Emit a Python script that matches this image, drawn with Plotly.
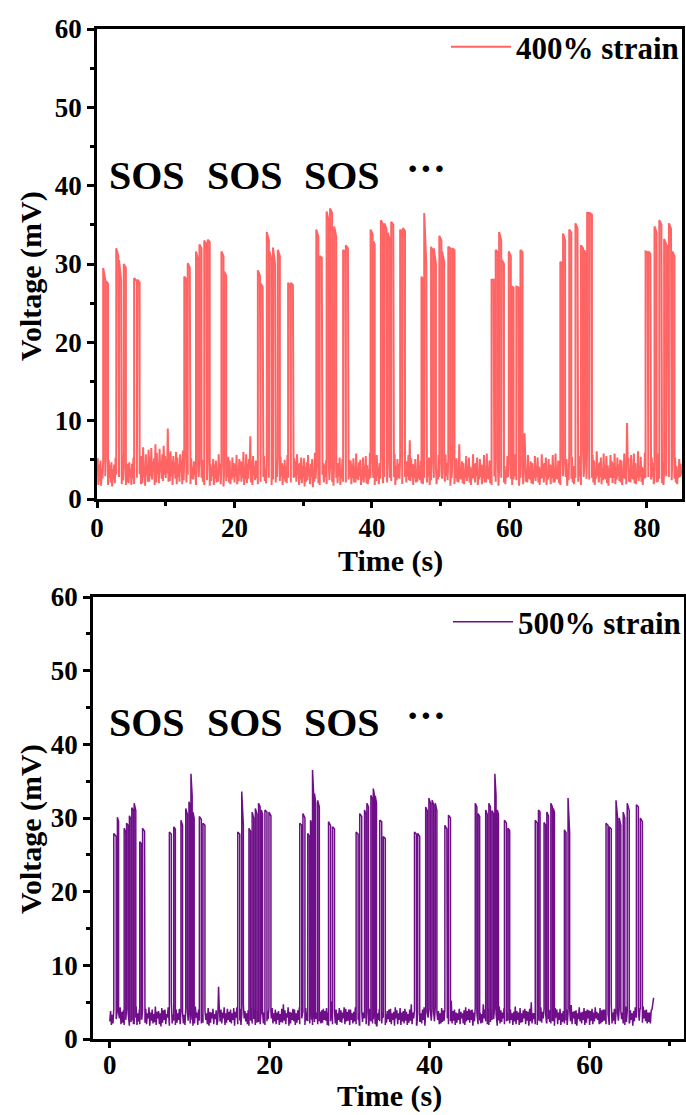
import plotly.graph_objects as go

# ---------------- data ----------------
# Baseline voltage in units of 0.1 mV, two digits per sample, one sample every 0.1 s.
# Each string = 5 s of signal.
top_dt = 0.1
top_base_rows = [
    "31521844234917392648" "19412955223618502743" "21471638254420533146" "17422849213719562440" "26511834224520472939",
    "18452653193721582749" "24613248195520662841" "17573044226322542965" "25483652187021593247" "20643449265723683155",
    "27513390225823612949" "18553247266019532844" "22573549196224522747" "21463155174319522641" "25483044184716412849",
    "19452750224118562739" "24482053174523412951" "18442649213822573145" "19432852163626472340" "28542149193725532846",
    "21442956193823513148" "22472760184225572045" "26513880214918553042" "24492745195026532248" "19462855233920472641",
    "27512244184825573140" "21462851173723542946" "18432650224120562745" "24492139193627522848" "22573145184625532042",
    "28521641224724562939" "19452851153822592643" "25482047183727553146" "21442849193526522440" "29542244174823572745",
    "20462953183926512243" "27482156163725502849" "19442752214121582639" "24472950183624532142" "28552043193825592746",
    "22482751184423562941" "19462655213720532844" "25492146193927552342" "20472857184224512745" "26532141193625582848",
    "21482956247523522845" "18442751213822572643" "24492043193627552948" "21462853183924512647" "27552242193725562844",
    "20472654183922572946" "24512048173627532845" "19442752223821702641" "25482046193527552342" "28532141183926572745",
    "21462953183725512844" "19432756213921582640" "25492047183626532948" "22452851173824562743" "26542142193727552845",
    "20472653183925572946" "24512148173727532845" "19448452223821562641" "25482046193527552342" "28532141183926572745",
    "21462953183725512844" "19432756213921582640" "25492047183626532948" "22452851173824562743" "26542142193727552845",
    "22512955183925622846" "20482663193725592344" "27562149183626612945" "21472853193824582642" "25552043173927562748",
    "20462758193625532944" "23502149183727582642" "19974852223921562641" "25582046193527612342" "28542241183926592745",
    "21492855183725532846" "19452652213922582640" "25502047183626532948" "22462851173824562743" "26532142193727512845",
    "30",
]
# Pulses: start time (s), end time (s), level at start and at end (mV)
top_on = [0.9, 1.3, 2.8, 3.2, 3.9, 5.4, 5.9,
          12.7, 13.2, 14.4, 14.9, 15.6, 16.1, 18.1, 18.5,
          23.4, 23.8, 24.7, 25.1, 25.6, 26.3, 27.8, 28.2,
          31.9, 32.4, 33.4, 33.9, 34.5, 35.8, 36.2,
          39.8, 40.2, 41.3, 41.8, 42.3, 42.8, 44.1, 44.5,
          47.2, 47.6, 48.6, 49.0, 49.8, 50.2, 51.1, 51.7,
          57.4, 58.0, 58.5, 58.9, 59.9, 60.4, 61.0, 61.6,
          67.4, 67.8, 68.7, 69.6, 70.4, 70.9, 71.3, 71.7,
          79.8, 80.2, 81.1, 81.8, 82.5, 82.9, 83.2, 83.7]
top_off = [1.2, 1.6, 3.1, 3.5, 4.2, 5.8, 6.2,
           13.0, 13.5, 14.7, 15.2, 15.9, 16.4, 18.4, 18.8,
           23.7, 24.1, 25.0, 25.4, 25.9, 26.6, 28.1, 28.5,
           32.2, 32.7, 33.7, 34.2, 34.8, 36.1, 36.5,
           40.1, 40.4, 41.6, 42.1, 42.6, 43.1, 44.4, 44.8,
           47.4, 47.9, 48.9, 49.3, 50.1, 50.5, 51.4, 52.0,
           57.7, 58.3, 58.8, 59.2, 60.2, 60.6, 61.3, 61.9,
           67.7, 68.1, 69.0, 69.9, 70.7, 71.1, 71.6, 72.0,
           80.1, 80.5, 81.4, 82.1, 82.8, 83.1, 83.5, 84.0]
top_h1 = [29.5, 27.8, 32.0, 30.5, 30.0, 28.2, 28.0,
          28.4, 30.1, 31.6, 32.5, 33.0, 33.1, 31.6, 29.0,
          29.2, 27.5, 34.1, 31.6, 32.1, 31.8, 27.6, 27.6,
          34.4, 31.0, 36.7, 37.1, 34.8, 31.8, 32.4,
          34.4, 32.9, 35.6, 35.2, 34.0, 35.4, 34.4, 34.6,
          28.4, 36.5, 32.2, 32.0, 33.6, 31.6, 32.2, 32.0,
          28.0, 31.8, 34.1, 30.5, 31.6, 27.1, 27.1, 31.8,
          30.3, 33.9, 34.4, 35.2, 32.4, 31.8, 36.5, 36.5,
          31.6, 31.6, 34.8, 35.6, 33.2, 32.4, 35.2, 31.6]
top_h2 = [28.0, 27.5, 31.0, 28.0, 29.5, 27.8, 27.6,
          28.0, 29.5, 30.5, 32.0, 32.5, 32.8, 31.0, 28.5,
          28.5, 27.1, 33.0, 30.5, 30.0, 31.0, 27.2, 27.3,
          33.5, 30.8, 35.5, 36.5, 33.5, 31.5, 32.0,
          33.8, 32.5, 35.0, 34.5, 33.0, 35.0, 34.0, 34.2,
          28.0, 30.0, 31.5, 30.0, 33.0, 30.3, 32.0, 31.8,
          28.0, 31.5, 33.0, 30.0, 31.0, 27.0, 27.0, 31.5,
          30.0, 33.0, 34.0, 34.5, 32.0, 31.0, 36.5, 36.3,
          31.5, 31.3, 34.0, 35.0, 32.5, 32.0, 34.5, 31.0]

bot_dt = 0.1
bot_base_rows = [
    "24381933214122362740" "19352843203722391934" "26412034183923422538" "21362944193524402033" "27391837224120352843",
    "18362540213423441937" "28382035174222392640" "20342943183624502133" "25371940223526412038" "29362133194324372540",
    "21382641183522442936" "19402537213423482039" "26352042183722362841" "20342739192571382440" "21362843193522412637",
    "23402135264218372943" "20362541193421472838" "24352039183725422136" "27411934223823462035" "25392136194024382742",
    "19372842213524402036" "26381934234122472539" "20352943183721362641" "24401935223926432034" "28372139194225362440",
    "21382641193423452836" "20352437213922412638" "25421936183724512035" "27382140193526422339" "22362843204124372540",
    "19402635213724432039" "26351941223823362842" "20372534194124452136" "27392038183526412443" "21362942193422382740",
    "23412035263718432839" "20352642193624382141" "25371934224025472036" "28392138193527422435" "21402643183722362941",
    "20372541193524442836" "26382035214223392540" "19362843203724522138" "25401936223526412037" "28352139194324382641",
    "22392640183624432935" "20372536213422472840" "24352041193823392637" "27412034183625442139" "23362842204024362538",
    "21402635193724442038" "26361942223523392841" "20382537184124502135" "27352039193625422443" "22372841193422362740",
    "23392136253818422940" "20362641193523382142" "25401935224124462037" "28382039183527432436" "21372642193822402839",
    "19382541203624432837" "26352042213923402540" "20372834194224482136" "25412036223525422038" "27362140194423372641",
    "22392635183824432936" "20372541193622442839" "24402136233621394046" "56",
]
bot_on = [0.5, 0.95, 1.8, 2.1, 2.45, 2.75, 3.05, 3.75, 4.1,
          7.45, 8.0, 8.9, 9.5, 9.9, 10.15, 10.4, 11.2, 11.65,
          16.0, 16.5, 17.4, 17.8, 18.2, 18.6, 18.95, 19.4, 19.9,
          23.75, 24.15, 24.75, 25.1, 25.35, 25.6, 26.0, 27.35, 27.85,
          30.8, 31.25, 31.85, 32.15, 32.65, 32.95, 33.2, 33.75, 34.2,
          38.1, 38.5, 39.5, 39.9, 40.3, 40.7, 41.9, 42.35,
          45.7, 46.05, 47.0, 47.4, 47.8, 48.15, 48.45, 49.35, 49.8,
          53.2, 53.6, 54.3, 54.65, 55.15, 55.45, 56.85, 57.3,
          62.05, 62.45, 63.3, 63.7, 64.2, 64.7, 65.85, 66.35]
bot_off = [0.8, 1.1, 2.0, 2.3, 2.65, 2.95, 3.25, 3.95, 4.35,
           7.7, 8.2, 9.1, 9.7, 10.05, 10.3, 10.55, 11.45, 11.9,
           16.25, 16.7, 17.6, 18.0, 18.4, 18.8, 19.1, 19.65, 20.15,
           24.0, 24.4, 24.95, 25.25, 25.5, 25.75, 26.2, 27.6, 28.1,
           31.05, 31.5, 32.05, 32.35, 32.85, 33.1, 33.35, 34.0, 34.45,
           38.35, 38.75, 39.7, 40.1, 40.5, 40.9, 42.15, 42.6,
           45.9, 46.25, 47.2, 47.6, 48.0, 48.3, 48.6, 49.6, 50.0,
           53.45, 53.8, 54.5, 54.85, 55.35, 55.6, 57.05, 57.5,
           62.3, 62.7, 63.5, 63.9, 64.4, 64.95, 66.1, 66.6]
bot_h1 = [27.9, 30.1, 28.6, 29.3, 30.3, 31.4, 32.0, 26.8, 28.6,
          28.1, 28.8, 29.7, 31.3, 32.2, 36.0, 30.8, 30.2, 29.3,
          28.1, 33.6, 28.6, 30.8, 31.3, 32.0, 31.1, 31.1, 30.8,
          29.3, 30.6, 27.9, 29.7, 36.5, 33.3, 32.4, 29.5, 28.8,
          28.1, 30.6, 31.1, 32.0, 33.1, 34.0, 33.0, 29.7, 27.5,
          28.1, 27.9, 31.5, 32.7, 32.4, 32.0, 29.0, 30.4,
          32.0, 30.6, 31.1, 32.0, 31.0, 36.0, 31.1, 29.7, 28.6,
          29.7, 31.1, 29.4, 30.8, 32.0, 31.3, 28.4, 32.7,
          29.3, 28.8, 32.4, 30.0, 30.8, 32.0, 31.8, 30.0]
bot_h2 = [27.5, 29.5, 28.0, 29.0, 29.8, 31.0, 31.0, 26.5, 28.2,
          27.8, 28.5, 29.0, 30.5, 31.5, 33.0, 30.0, 29.8, 29.0,
          27.8, 29.0, 28.2, 30.0, 30.5, 31.5, 30.5, 30.8, 30.3,
          29.0, 30.0, 27.5, 29.0, 33.0, 32.0, 31.5, 29.0, 28.5,
          27.8, 30.2, 30.5, 31.5, 32.5, 33.0, 32.0, 29.5, 27.2,
          27.8, 27.5, 31.0, 32.0, 31.8, 31.0, 28.5, 30.0,
          31.5, 30.2, 30.5, 31.5, 30.5, 33.0, 30.5, 29.3, 28.3,
          29.3, 30.8, 29.0, 30.3, 31.5, 30.8, 28.0, 28.0,
          29.0, 28.5, 30.0, 29.0, 30.0, 31.0, 31.5, 29.5]

x_ticks_top = [0, 20, 40, 60, 80]
x_ticks_bot = [0, 20, 40, 60]
y_ticks = [0, 10, 20, 30, 40, 50, 60]


def decode(rows):
    s = "".join(rows)
    return [int(s[i:i + 2]) / 10 for i in range(0, len(s), 2)]


def build(dt, base, on, off, h1, h2):
    n = len(base)
    pts = []
    for i, b in enumerate(base):
        t = round(i * dt, 4)
        if not any(a <= t <= c for a, c in zip(on, off)):
            pts.append((t, 0, b))
    for a, c, p, q in zip(on, off, h1, h2):
        ia = min(int(round(a / dt)), n - 1)
        ic = min(int(round(c / dt)), n - 1)
        pts.append((a, 0, base[ia]))
        pts.append((a, 1, p))
        pts.append((c, 0, q))
        pts.append((c, 1, base[ic]))
    pts.sort()
    return [p[0] for p in pts], [p[2] for p in pts]


tx, ty = build(top_dt, decode(top_base_rows), top_on, top_off, top_h1, top_h2)
bx, by = build(bot_dt, decode(bot_base_rows), bot_on, bot_off, bot_h1, bot_h2)

FONT = "Liberation Serif"
W, H = 686, 1115

fig = go.Figure()
fig.add_trace(go.Scatter(x=tx, y=ty, mode="lines", name="400% strain",
                         line=dict(color="#FF6464", width=2.0),
                         xaxis="x", yaxis="y", legend="legend"))
fig.add_trace(go.Scatter(x=bx, y=by, mode="lines", name="500% strain",
                         line=dict(color="#6E0E88", width=1.5),
                         xaxis="x2", yaxis="y2", legend="legend2"))

tickfont = dict(family=FONT, size=27, color="black", weight="bold")


def xax(domain, anchor, rng, ticks, standoff):
    return dict(domain=domain, anchor=anchor, range=rng, automargin=False,
                tickmode="array", tickvals=ticks,
                ticks="outside", ticklen=6, tickwidth=2.5, tickcolor="black",
                ticklabelstandoff=standoff,
                minor=dict(ticks="outside", ticklen=4, tickwidth=2.5,
                           tickcolor="black", dtick=10, tick0=0, showgrid=False),
                showline=True, linewidth=2.5, linecolor="black", mirror=True,
                showgrid=False, zeroline=False, tickfont=tickfont)


def yax(domain, anchor):
    return dict(domain=domain, anchor=anchor, range=[0, 60], automargin=False,
                tickmode="array", tickvals=y_ticks,
                ticks="outside", ticklen=7, tickwidth=2.5, tickcolor="black",
                minor=dict(ticks="outside", ticklen=4, tickwidth=2.5,
                           tickcolor="black", dtick=5, tick0=0, showgrid=False),
                showline=True, linewidth=2.5, linecolor="black", mirror=True,
                showgrid=False, zeroline=False, tickfont=tickfont)


titlefont = dict(family=FONT, size=30, color="black", weight="bold")
bigfont = dict(family=FONT, size=40, color="black", weight="bold")


def pa(text, xp, yp, font, angle=0):
    return dict(text=text, x=xp / W, y=1 - yp / H, xref="paper", yref="paper",
                showarrow=False, xanchor="center", yanchor="middle",
                textangle=angle, font=font)


annots = [
    pa("Time (s)", 390, 561, titlefont),
    pa("Time (s)", 389, 1096, titlefont),
    pa("Voltage (mV)", 31, 276, titlefont, -90),
    pa("Voltage (mV)", 31, 829, titlefont, -90),
]
for (xp, yp) in [(147, 175), (245, 175), (342, 175), (147, 722), (245, 722), (342, 722)]:
    annots.append(pa("SOS", xp, yp, bigfont))
for yp in (168, 715):
    annots.append(pa("···", 426, yp, bigfont))

legfont = dict(family=FONT, size=31, color="black", weight="bold")
fig.update_layout(
    width=W, height=H,
    margin=dict(l=0, r=0, t=0, b=0, autoexpand=False),
    paper_bgcolor="white", plot_bgcolor="white",
    xaxis=xax([97 / W, 682 / W], "y", [0, 85.1], x_ticks_top, -3),
    yaxis=yax([1 - 499 / H, 1 - 29 / H], "x"),
    xaxis2=xax([93 / W, 684 / W], "y2", [-2.1, 71.8], x_ticks_bot, -6),
    yaxis2=yax([1 - 1039 / H, 1 - 597 / H], "x2"),
    legend=dict(x=684 / W, y=1 - 47 / H, xanchor="right", yanchor="middle",
                bgcolor="rgba(0,0,0,0)", font=legfont, itemwidth=60),
    legend2=dict(x=686 / W, y=1 - 622 / H, xanchor="right", yanchor="middle",
                 bgcolor="rgba(0,0,0,0)", font=legfont, itemwidth=60),
    annotations=annots,
    showlegend=True,
)

fig.write_html("out.html")
